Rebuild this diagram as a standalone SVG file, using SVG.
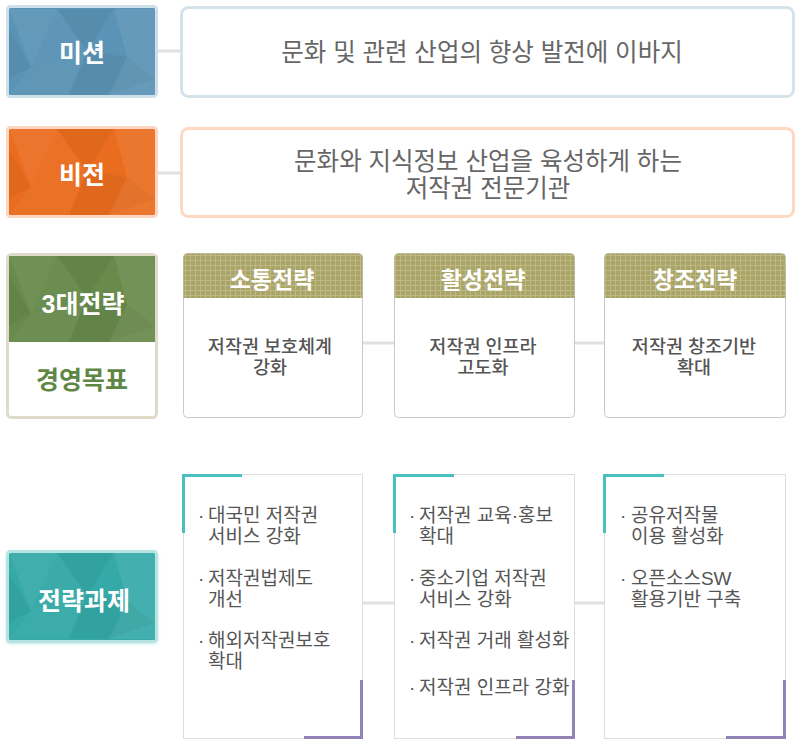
<svg xmlns="http://www.w3.org/2000/svg" xmlns:xlink="http://www.w3.org/1999/xlink" width="800" height="747" viewBox="0 0 800 747">
<style>
text{font-family:"Liberation Sans","Noto Sans CJK KR",sans-serif}
.lbl{font-size:25px;font-weight:bold;fill:#fff;text-anchor:middle}
.main{font-size:24.5px;fill:#666;text-anchor:middle}
.hdr{font-size:23px;font-weight:bold;fill:#fff;text-anchor:middle}
.body{font-size:18.5px;font-weight:500;fill:#555;text-anchor:middle}
.task{font-size:19px;fill:#555}
.conn{stroke:#e0e0e0;stroke-width:3;fill:none}
.card{fill:#fff;stroke:#c9c9c9;stroke-width:1}
.tcard{fill:#fff;stroke:#dddddd;stroke-width:1}
.teal{stroke:#47c0bf;stroke-width:3;fill:none}
.purple{stroke:#9183b6;stroke-width:3;fill:none}
</style>
<defs>
<pattern id="grid" width="5" height="5" patternUnits="userSpaceOnUse">
<rect width="5" height="5" fill="#a9a467"/>
<path d="M0 0.5H5M0.5 0V5" stroke="#bdb884" stroke-width="1"/>
</pattern>
<g id="facets">
<polygon points="0,0 48,0 22,58" fill="#fff" opacity="0.06"/>
<polygon points="48,0 105,0 78,42" fill="#000" opacity="0.04"/>
<polygon points="105,0 146,0 146,28 118,48" fill="#fff" opacity="0.07"/>
<polygon points="22,58 78,42 60,86 0,86" fill="#fff" opacity="0.04"/>
<polygon points="78,42 118,48 146,70 100,86 60,86" fill="#000" opacity="0.04"/>
<polygon points="118,48 146,28 146,86 100,86" fill="#fff" opacity="0.07"/>
<polygon points="0,20 22,58 0,70" fill="#000" opacity="0.04"/>
<polygon points="48,0 78,42 22,58" fill="#fff" opacity="0.03"/>
</g>
<filter id="glow" x="-10%" y="-10%" width="120%" height="120%">
<feDropShadow dx="0" dy="1" stdDeviation="1.5" flood-color="#6cc" flood-opacity="0.4"/>
</filter>
</defs>

<g id="connectors">
<line class="conn" x1="158" y1="51" x2="181" y2="51"/>
<line class="conn" x1="158" y1="173" x2="181" y2="173"/>
<line class="conn" x1="363" y1="343" x2="394" y2="343"/>
<line class="conn" x1="575" y1="343" x2="604" y2="343"/>
<line class="conn" x1="363" y1="603" x2="394" y2="603"/>
<line class="conn" x1="575" y1="603" x2="604" y2="603"/>
</g>

<g id="mission-label">
<rect x="7.5" y="6.5" width="149" height="90" rx="3" fill="#5a93b5" stroke="#cddfe9" stroke-width="3"/>
<use xlink:href="#facets" transform="translate(9,9)"/>
<text class="lbl" x="82" y="62">미션</text>
</g>
<g id="mission-text">
<rect x="181.5" y="7.5" width="612" height="89" rx="7" fill="#fff" stroke="#d4e2eb" stroke-width="3"/>
<text class="main" x="482" y="61">문화 및 관련 산업의 향상 발전에 이바지</text>
</g>

<g id="vision-label">
<rect x="7.5" y="127.5" width="149" height="89" rx="3" fill="#ea6d1f" stroke="#fcd6c0" stroke-width="3"/>
<use xlink:href="#facets" transform="translate(9,129)"/>
<text class="lbl" x="82" y="184">비전</text>
</g>
<g id="vision-text">
<rect x="181.5" y="128.5" width="612" height="88" rx="7" fill="#fff" stroke="#fdd9c3" stroke-width="3"/>
<text class="main" y="169.5"><tspan x="488">문화와 지식정보 산업을 육성하게 하는</tspan><tspan x="488" dy="27.5">저작권 전문기관</tspan></text>
</g>

<g id="strategy-label">
<rect x="7.5" y="254.5" width="149" height="163" rx="4" fill="#fff" stroke="#dedbcb" stroke-width="3"/>
<rect x="9" y="256" width="146" height="86" fill="#688a4b"/>
<use xlink:href="#facets" transform="translate(9,256)"/>
<text class="lbl" x="83" y="313">3대전략</text>
<text class="lbl" x="82" y="389" style="fill:#5f8744">경영목표</text>
</g>

<g id="strategy-1">
<rect class="card" x="183.5" y="253.5" width="179" height="164" rx="4"/>
<path d="M183.5 298V257.5a4 4 0 0 1 4-4H358.5a4 4 0 0 1 4 4V298Z" fill="url(#grid)"/>
<text class="hdr" x="272" y="288">소통전략</text>
<text class="body" y="352.5"><tspan x="270">저작권 보호체계</tspan><tspan x="270" dy="21.5">강화</tspan></text>
</g>
<g id="strategy-2">
<rect class="card" x="394.5" y="253.5" width="180" height="164" rx="4"/>
<path d="M394.5 298V257.5a4 4 0 0 1 4-4H570.5a4 4 0 0 1 4 4V298Z" fill="url(#grid)"/>
<text class="hdr" x="483" y="288">활성전략</text>
<text class="body" y="352.5"><tspan x="483">저작권 인프라</tspan><tspan x="483" dy="21.5">고도화</tspan></text>
</g>
<g id="strategy-3">
<rect class="card" x="604.5" y="253.5" width="181" height="164" rx="4"/>
<path d="M604.5 298V257.5a4 4 0 0 1 4-4H781.5a4 4 0 0 1 4 4V298Z" fill="url(#grid)"/>
<text class="hdr" x="695" y="288">창조전략</text>
<text class="body" y="352.5"><tspan x="694">저작권 창조기반</tspan><tspan x="694" dy="21.5">확대</tspan></text>
</g>

<g id="task-label">
<rect x="7.5" y="551.5" width="149" height="90" rx="3" fill="#35a9a8" stroke="#b8e3e3" stroke-width="3" filter="url(#glow)"/>
<use xlink:href="#facets" transform="translate(9,553)"/>
<text class="lbl" x="84" y="610">전략과제</text>
</g>

<g id="task-1">
<rect class="tcard" x="183.5" y="474.5" width="179" height="264"/>
<path class="teal" d="M183.5 533V475.5H242"/>
<path class="purple" d="M361.5 680V737.5H304"/>
<text class="task" y="521.5"><tspan x="198">·</tspan><tspan x="208">대국민 저작권</tspan><tspan x="208" dy="21.5">서비스 강화</tspan></text>
<text class="task" y="584.5"><tspan x="198">·</tspan><tspan x="208">저작권법제도</tspan><tspan x="208" dy="21.5">개선</tspan></text>
<text class="task" y="646.5"><tspan x="198">·</tspan><tspan x="208">해외저작권보호</tspan><tspan x="208" dy="21.5">확대</tspan></text>
</g>
<g id="task-2">
<rect class="tcard" x="394.5" y="474.5" width="180" height="264"/>
<path class="teal" d="M394.5 533V475.5H454"/>
<path class="purple" d="M573.5 680V737.5H516"/>
<text class="task" y="521.5"><tspan x="409">·</tspan><tspan x="419">저작권 교육·홍보</tspan><tspan x="419" dy="21.5">확대</tspan></text>
<text class="task" y="584.5"><tspan x="409">·</tspan><tspan x="419">중소기업 저작권</tspan><tspan x="419" dy="21.5">서비스 강화</tspan></text>
<text class="task" y="646.5"><tspan x="409">·</tspan><tspan x="419">저작권 거래 활성화</tspan></text>
<text class="task" y="693.5"><tspan x="409">·</tspan><tspan x="419">저작권 인프라 강화</tspan></text>
</g>
<g id="task-3">
<rect class="tcard" x="604.5" y="474.5" width="181" height="264"/>
<path class="teal" d="M604.5 533V475.5H664"/>
<path class="purple" d="M784.5 680V737.5H726"/>
<text class="task" y="521.5"><tspan x="620">·</tspan><tspan x="631">공유저작물</tspan><tspan x="631" dy="21.5">이용 활성화</tspan></text>
<text class="task" y="584.5"><tspan x="620">·</tspan><tspan x="631">오픈소스SW</tspan><tspan x="631" dy="21.5">활용기반 구축</tspan></text>
</g>
</svg>
